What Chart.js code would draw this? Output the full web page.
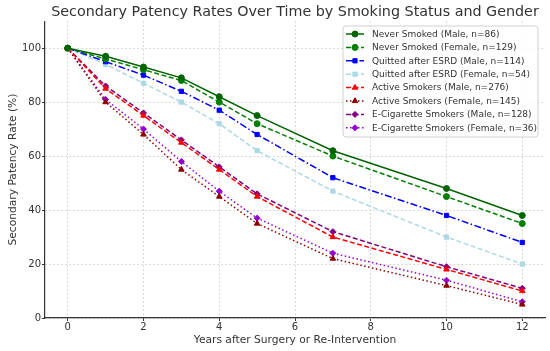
<!DOCTYPE html>
<html>
<head>
<meta charset="utf-8">
<script src="https://cdn.jsdelivr.net/npm/chart.js@4/dist/chart.umd.min.js"></script>
<style>
  html, body { margin: 0; padding: 0; background: #fff; }
</style>
</head>
<body>
<canvas id="chart" width="550" height="351"></canvas>
<script>
// data
const years = [0, 1, 2, 3, 4, 5, 7, 10, 12];
const neverMale = [100, 97, 93, 89, 82, 75, 62, 48, 38];
const neverFemale = [100, 96, 92, 88, 80, 72, 60, 45, 35];
const quitMale = [100, 95, 90, 84, 77, 68, 52, 38, 28];
const quitFemale = [100, 94, 87, 80, 72, 62, 47, 30, 20];
const activeMale = [100, 85, 75, 65, 55, 45, 30, 18, 10];
const activeFemale = [100, 80, 68, 55, 45, 35, 22, 12, 5];
const ecigMale = [100, 86, 76, 66, 56, 46, 32, 19, 11];
const ecigFemale = [100, 81, 70, 58, 47, 37, 24, 14, 6];
const xTicks = [0, 2, 4, 6, 8, 10, 12];
const yTicks = [0, 20, 40, 60, 80, 100];

const seriesLabels = [
  "Never Smoked (Male, n=86)",
  "Never Smoked (Female, n=129)",
  "Quitted after ESRD (Male, n=114)",
  "Quitted after ESRD (Female, n=54)",
  "Active Smokers (Male, n=276)",
  "Active Smokers (Female, n=145)",
  "E-Cigarette Smokers (Male, n=128)",
  "E-Cigarette Smokers (Female, n=36)"
];
const seriesValues = [neverMale, neverFemale, quitMale, quitFemale, activeMale, activeFemale, ecigMale, ecigFemale];

// styles
const colors = ["#006400", "#008000", "#0000ff", "#add8e6", "#ff0000", "#8b0000", "#800080", "#9400d3"];
const dashes = [[], [5, 2.5], [7, 2.5, 1.5, 2.5], [5, 2.5], [5, 2.5], [1.5, 2.5], [5, 2.5], [1.5, 2.5]];
const markers = ["circle", "circle", "rect", "rect", "triangle", "triangle", "rectRot", "rectRot"];
const markerSize = [3, 3, 3, 3, 3.2, 3.2, 3, 3];

Chart.defaults.font.family = "'DejaVu Sans', sans-serif";
Chart.defaults.color = "#333";

const datasets = seriesLabels.map((label, i) => ({
  label: label,
  data: years.map((x, j) => ({ x: x, y: seriesValues[i][j] })),
  borderColor: colors[i],
  backgroundColor: colors[i],
  borderWidth: 1.5,
  borderDash: dashes[i],
  pointStyle: markers[i],
  pointRadius: markerSize[i],
  pointBorderWidth: 1,
  tension: 0
}));

// legend drawn by hand so it shows line + marker like the original
const legendPlugin = {
  id: "lineLegend",
  afterDraw(chart) {
    const ctx = chart.ctx;
    const bx = 343, by = 26, bw = 195, bh = 111;
    ctx.save();
    ctx.beginPath();
    ctx.roundRect(bx, by, bw, bh, 3);
    ctx.fillStyle = "rgba(255,255,255,0.85)";
    ctx.fill();
    ctx.strokeStyle = "#d0d0d0";
    ctx.lineWidth = 1;
    ctx.stroke();
    ctx.font = "9px 'DejaVu Sans'";
    ctx.textBaseline = "middle";
    chart.data.datasets.forEach((ds, i) => {
      const y = 34 + i * 13.4;
      ctx.strokeStyle = ds.borderColor;
      ctx.fillStyle = ds.borderColor;
      ctx.lineWidth = 1.5;
      ctx.setLineDash(ds.borderDash);
      ctx.beginPath();
      ctx.moveTo(346, y);
      ctx.lineTo(364, y);
      ctx.stroke();
      ctx.setLineDash([]);
      ctx.lineWidth = 1;
      Chart.helpers.drawPoint(ctx, { pointStyle: ds.pointStyle, radius: ds.pointRadius, rotation: 0, borderWidth: 1 }, 355, y);
      ctx.fillStyle = "#333";
      ctx.fillText(ds.label, 372, y + 0.5);
    });
    ctx.restore();
  }
};

new Chart(document.getElementById("chart"), {
  type: "line",
  data: { datasets: datasets },
  plugins: [legendPlugin],
  options: {
    responsive: false,
    animation: false,
    layout: { padding: { right: 5 } },
    plugins: {
      legend: { display: false },
      tooltip: { enabled: false },
      title: {
        display: true,
        fullSize: false,
        text: "Secondary Patency Rates Over Time by Smoking Status and Gender",
        font: { size: 14.3, weight: "normal" },
        color: "#333",
        padding: { top: 4, bottom: 0 }
      }
    },
    scales: {
      x: {
        type: "linear",
        min: -0.6,
        max: 12.6,
        afterBuildTicks: (scale) => { scale.ticks = xTicks.map(v => ({ value: v })); },
        afterFit: (scale) => { scale.height = 33; },
        ticks: { font: { size: 10 }, padding: 0, maxRotation: 0 },
        grid: { color: "#d8d8d8", tickColor: "#333", tickLength: 3 },
        border: { display: true, color: "#333", width: 1.2, dash: [2, 2] },
        title: {
          display: true,
          text: "Years after Surgery or Re-Intervention",
          font: { size: 10.7 },
          padding: { top: 0, bottom: 4 }
        }
      },
      y: {
        min: 0,
        max: 110,
        afterBuildTicks: (scale) => { scale.ticks = yTicks.map(v => ({ value: v })); },
        afterFit: (scale) => { scale.width = 45; },
        ticks: { font: { size: 10 }, padding: 1 },
        grid: { color: "#d8d8d8", tickColor: "#333", tickLength: 3 },
        border: { display: true, color: "#333", width: 1.2, dash: [2, 2] },
        title: {
          display: true,
          text: "Secondary Patency Rate (%)",
          font: { size: 10.7 },
          padding: { top: 7, bottom: 0 }
        }
      }
    }
  }
});
</script>
</body>
</html>
